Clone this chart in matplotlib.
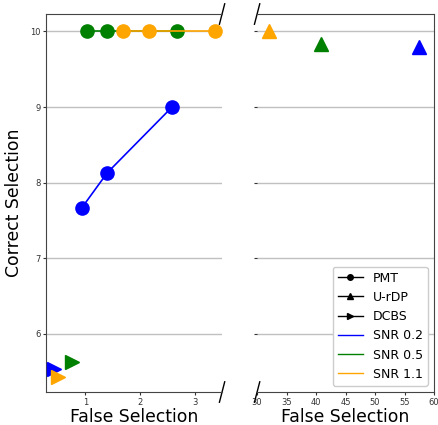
import matplotlib
matplotlib.use("Agg")
import matplotlib.pyplot as plt
from matplotlib.lines import Line2D

# Data
snr_labels = ["SNR 0.2", "SNR 0.5", "SNR 1.1"]
snr_colors = ["blue", "green", "orange"]

pmt_x = [[0.94, 1.40, 2.58], [1.04, 1.40, 2.67], [1.69, 2.16, 3.37]]
pmt_y = [[7.67, 8.13, 9.00], [10.0, 10.0, 10.0], [10.0, 10.0, 10.0]]

urdp_x = [57.5, 40.8, 32.0]
urdp_y = [9.79, 9.83, 10.0]

dcbs_x = [0.43, 0.75, 0.51]
dcbs_y = [5.53, 5.63, 5.43]

method_labels = ["PMT", "U-rDP", "DCBS"]
method_markers = ["o", "^", ">"]

fig = plt.figure(figsize=(4.38, 4.25), dpi=100)
ax1 = fig.add_axes([0.1057, 0.0776, 0.4013, 0.8894])
ax2 = fig.add_axes([0.587, 0.0776, 0.404, 0.8894], sharey=ax1)

ms = 9.5
for i in range(3):
    ax1.plot(pmt_x[i], pmt_y[i], marker="o", color=snr_colors[i], markersize=ms, lw=1.2, zorder=3)
    ax1.plot(dcbs_x[i], dcbs_y[i], marker=">", color=snr_colors[i], markersize=ms, ls="none", zorder=3)
    ax2.plot(urdp_x[i], urdp_y[i], marker="^", color=snr_colors[i], markersize=ms, ls="none", zorder=3)

ax1.set_xlim(0.29, 3.49)
ax1.set_ylim(5.23, 10.23)
ax2.set_xlim(30, 60)
ax1.set_yticks([6, 7, 8, 9, 10])
ax1.set_xticks([1, 2, 3])
ax2.set_xticks([30, 35, 40, 45, 50, 55, 60])

for ax in (ax1, ax2):
    ax.yaxis.grid(True, color="#c0c0c0", lw=1)
    ax.set_axisbelow(True)
    ax.tick_params(labelsize=6, colors="#333333", length=2.2, pad=2)
    for s in ax.spines.values():
        s.set_color("#444444")
    ax.set_xlabel("False Selection", fontsize=12.4, labelpad=1)

ax1.spines["right"].set_visible(False)
ax2.spines["left"].set_visible(False)
ax2.tick_params(axis="y", labelleft=False, left=True)

ax1.set_ylabel("Correct Selection", fontsize=12.4, labelpad=5)

# break marks
d = 0.015
kw = dict(color="k", clip_on=False, lw=1)
ax1.plot((1 - d, 1 + d), (-d * 1.8, d * 1.8), transform=ax1.transAxes, **kw)
ax1.plot((1 - d, 1 + d), (1 - d * 1.8, 1 + d * 1.8), transform=ax1.transAxes, **kw)
ax2.plot((-d, d), (-d * 1.8, d * 1.8), transform=ax2.transAxes, **kw)
ax2.plot((-d, d), (1 - d * 1.8, 1 + d * 1.8), transform=ax2.transAxes, **kw)

handles = [Line2D([], [], color="black", marker=m, markersize=4, lw=1) for m in method_markers]
handles += [Line2D([], [], color=c, lw=1) for c in snr_colors]
labels = method_labels + snr_labels
ax2.legend(handles, labels, loc="lower right", fontsize=9, framealpha=1,
           borderaxespad=0.5)

fig.savefig("out.png", dpi=100)
